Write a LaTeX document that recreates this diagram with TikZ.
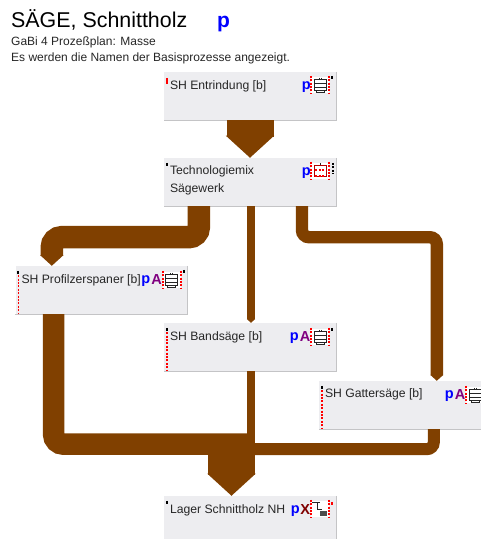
\documentclass[tikz,border=0pt]{standalone}
\usepackage{fontspec}
\setmainfont{Liberation Sans}
\usepackage{xcolor}
\definecolor{wood}{HTML}{804000}
\definecolor{boxfill}{HTML}{EDEDF0}
\definecolor{boxedge}{HTML}{C4C4C6}
\definecolor{flaga}{HTML}{800080}
\definecolor{flagx}{HTML}{800000}
\usepackage{tikz}
\usetikzlibrary{arrows.meta,calc,positioning}
\tikzstyle{block} = [rectangle, fill=boxfill, minimum width=172pt, minimum height=48pt, inner sep=0pt]
\tikzstyle{boxtext} = [inner sep=0pt, align=left, font=\fontsize{12.2}{18}\selectfont, text=black!85]
\tikzstyle{flow} = [draw=wood, -{Triangle[length=0pt .47 0, width=0pt 1 0]}]
\tikzstyle{flowline} = [draw=wood]
\tikzstyle{letter} = [inner sep=0pt, font=\fontsize{14.5}{14}\selectfont\bfseries]
\tikzstyle{reddash} = [draw=red, line width=1.6pt, dash pattern=on 2pt off 1.4pt]
\tikzstyle{tick} = [line width=2pt]
\tikzset{
  iconframe/.pic={
    \fill[white] (-9,-8) rectangle (9,8);
    \draw[reddash] (-9,-9) -- (-9,9);
    \draw[reddash] (9,-9) -- (9,9);
  },
  planticon/.pic={
    \pic {iconframe};
    \draw[line width=1.1pt,black!85] (-6,-5) rectangle (6,6) (-6,-1) -- (6,-1) (-6,3) -- (6,3) (-1,-7) -- (-1,-5) (1,-7) -- (1,-5) (-4,6) rectangle (4,8);
  },
  mixicon/.pic={
    \pic {iconframe};
    \draw[line width=1.1pt,black!85] (-6,-5) rectangle (6,6) (0,-8) -- (0,-5);
    \draw[line width=1.1pt,red!70!black] (-6,-5) rectangle (6,6);
    \draw[reddash] (-5,-1) -- (5,-1) (-5,5) -- (5,5);
  },
  storeicon/.pic={
    \pic {iconframe};
    \draw[line width=1.2pt,black!85] (-8,-6) -- (0,-6) (-3,-6) -- (-3,1) -- (2,1);
    \fill[black!70] (0,2) rectangle (7,7);
  }
}

\begin{document}
\begin{tikzpicture}[x=1pt,y=-1pt]
    \path[use as bounding box] (0,0) rectangle (481,539);
    \clip (0,0) rectangle (481,539);

    % Place nodes
    \node[anchor=base west,inner sep=0pt,font=\fontsize{21.4}{21}\selectfont] (title) at (11,27) {SÄGE, Schnittholz};
    \node[letter,font=\fontsize{21}{21}\selectfont\bfseries,text=blue,anchor=base west] (titlep) at (217,27) {p};
    \node[boxtext,font=\fontsize{12}{16}\selectfont,anchor=north west] (subtitle) at (11,37) {GaBi 4 Prozeßplan: Masse\\Es werden die Namen der Basisprozesse angezeigt.};

    \node[block] (entr) at (250,96) {};
    \node[block,below of=entr,node distance=86pt] (tech) {};
    \node[block,below of=tech,node distance=165pt] (band) {};
    \node[block,below of=band,node distance=173pt] (lager) {};
    \node[block] (prof) at (101.5,290) {};
    \node[block] (gatter) at (405,405) {};

    \node[boxtext,below right=8.5pt and 6pt of entr.north west] (entrtext) {SH Entrindung [b]};
    \node[boxtext,below right=8pt and 6pt of tech.north west] (techtext) {Technologiemix\\Sägewerk};
    \node[boxtext,below right=8.5pt and 6pt of prof.north west] (proftext) {SH Profilzerspaner [b]};
    \node[boxtext,below right=8.5pt and 6pt of band.north west] (bandtext) {SH Bandsäge [b]};
    \node[boxtext,below right=8pt and 6pt of gatter.north west] (gattertext) {SH Gattersäge [b]};
    \node[boxtext,below right=8.5pt and 6pt of lager.north west] (lagertext) {Lager Schnittholz NH};

    \node[letter,text=blue] (entrp) at ($(entr.north east)+(-30,15)$) {p};
    \node[letter,text=blue] (techp) at ($(tech.north east)+(-30,15)$) {p};
    \foreach \name in {prof,band,gatter} {
      \node[letter,text=blue] (\name p) at ($(\name.north east)+(-42,15)$) {p};
      \node[letter,text=flaga] (\name a) at ($(\name.north east)+(-31,14)$) {A};
      \pic at ($(\name.north east)+(-16,14)$) {planticon};
      \draw[reddash] ($(\name.north west)+(3,6)$) -- ($(\name.south west)+(3,0)$);
      \draw[tick,black] ($(\name.north west)+(3,5)$) -- ++(0,3);
    }
    \node[letter,text=blue] (lagerp) at ($(lager.north east)+(-41,15)$) {p};
    \node[letter,text=flagx] (lagerx) at ($(lager.north east)+(-31,14)$) {X};
    \pic at ($(entr.north east)+(-16,13)$) {planticon};
    \pic at ($(tech.north east)+(-16,13)$) {mixicon};
    \pic at ($(lager.north east)+(-16,13)$) {storeicon};

    % small marks on the boxes
    \draw[tick,red] ($(entr.north west)+(3,6)$) -- ++(0,6);
    \draw[tick,black] ($(tech.north west)+(3,5)$) -- ++(0,3);
    \draw[tick,black] ($(lager.north west)+(3,5)$) -- ++(0,3);
    \draw[tick,black] ($(entr.north east)+(-4,4)$) -- ++(0,3);
    \draw[tick,black] ($(prof.north east)+(-4,4)$) -- ++(0,3);
    \draw[tick,black] ($(band.north east)+(-4,5)$) -- ++(0,3);
    \draw[tick,black,dash pattern=on 2pt off 1.5pt] ($(tech.north east)+(-3,5)$) -- ++(0,11);
    \draw[tick,red] ($(lager.north east)+(-4,6)$) -- ++(0,3);

    \foreach \name in {entr,tech,prof,band,gatter,lager} {
      \draw[boxedge,line width=1pt] (\name.north east) -- (\name.south east) -- (\name.south west);
    }

    % Draw edges
    \draw[flow,line width=47pt] (entr.south) -- (tech.north);
    \draw[flow,line width=22.5pt,rounded corners=10pt] ($(tech.south west)+(35,0)$) -- ++(0,31) -| ($(prof.north west)+(36.5,0)$);
    \draw[flow,line width=8pt] ($(tech.south)+(1,0)$) -- ($(band.north)+(1,0)$);
    \draw[flow,line width=12.4pt,rounded corners=7pt] ($(tech.south)+(52,0)$) -- ++(0,31) -| ($(gatter.north west)+(118,0)$);

    \draw[flowline,line width=21.5pt,rounded corners=10pt] ($(prof.south west)+(38.3,0)$) |- ($(band.south)+(1,73)$);
    \draw[flowline,line width=8pt] ($(band.south)+(1,0)$) -- ($(band.south)+(1,84)$);
    \draw[flowline,line width=12pt,rounded corners=7pt] ($(gatter.south west)+(115,0)$) |- ($(band.south)+(1,78)$);
    \draw[flow,line width=47pt] ($(lager.north)+(-18.5,-50)$) -- ($(lager.north)+(-18.5,0)$);
\end{tikzpicture}
\end{document}
